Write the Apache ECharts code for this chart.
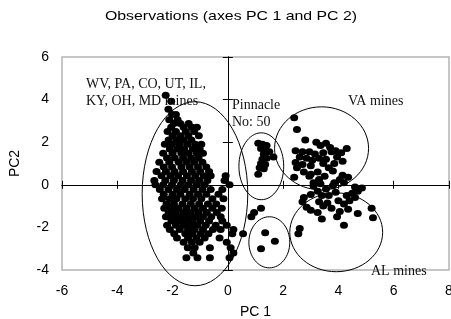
<!DOCTYPE html>
<html>
<head>
<meta charset="utf-8">
<script src="https://cdn.jsdelivr.net/npm/echarts@6/dist/echarts.min.js"></script>
<style>
    html, body {margin: 0; padding: 0; background: #fff;}
    #main {width: 451px; height: 319px;}
</style>
</head>
<body>
<div id="main"></div>
<script>
//图表容器
let chart = echarts.init(document.getElementById('main'));

//坐标轴刻度
let xMin = -6, xMax = 8, xStep = 2;
let yMin = -4, yMax = 6, yStep = 2;

//WV, PA, CO, UT, IL, KY, OH, MD 矿 - 按行 [Y, X...]
let wvRows = [
    [4.2, -2.25],
    [3.92, -2.05],
    [3.55, -2.15],
    [3.3, -2.02, -1.88],
    [3.05, -2.12, -1.82],
    [2.88, -1.95, -1.72, -1.42],
    [2.7, -2.05, -1.6, -1.3, -1.12],
    [2.5, -2.18, -1.88, -1.52, -1.22],
    [2.3, -2.0, -1.72, -1.43, -1.05],
    [2.1, -2.14, -1.86, -1.6, -1.32],
    [1.9, -2.28, -2.02, -1.74, -1.46, -1.18, -0.96],
    [1.68, -2.1, -1.83, -1.58, -1.27, -1.02],
    [1.48, -2.34, -2.0, -1.68, -1.42, -1.12, -0.9],
    [1.26, -2.2, -1.92, -1.62, -1.33, -1.06],
    [1.06, -2.48, -2.12, -1.78, -1.5, -1.22, -0.92],
    [0.84, -2.32, -2.02, -1.68, -1.38, -1.08, -0.78],
    [0.62, -2.58, -2.24, -1.93, -1.62, -1.3, -1.0, -0.68],
    [0.42, -2.4, -2.08, -1.8, -1.48, -1.18, -0.88, -0.62, -0.08],
    [0.2, -2.66, -2.26, -1.95, -1.64, -1.33, -1.04, -0.74, -0.12],
    [0.0, -2.62, -2.34, -2.02, -1.7, -1.42, -1.12, -0.84, 0.06],
    [-0.22, -2.46, -2.15, -1.84, -1.56, -1.24, -0.92, -0.62, -0.2],
    [-0.44, -2.32, -2.0, -1.72, -1.38, -1.08, -0.78, -0.34],
    [-0.66, -2.38, -2.1, -1.86, -1.54, -1.26, -0.96, -0.56, -0.16],
    [-0.9, -2.22, -1.95, -1.64, -1.34, -1.04, -0.72, -0.42],
    [-1.1, -2.3, -2.06, -1.8, -1.5, -1.2, -0.9, -0.56, -0.22],
    [-1.3, -2.14, -1.88, -1.6, -1.34, -1.06, -0.76, -0.4],
    [-1.5, -2.24, -1.98, -1.7, -1.44, -1.18, -0.9, -0.6, -0.26],
    [-1.7, -2.04, -1.78, -1.54, -1.28, -1.0, -0.68, -0.2],
    [-1.9, -2.2, -1.88, -1.6, -1.34, -1.1, -0.8, -0.44, -0.04],
    [-2.1, -2.1, -1.74, -1.44, -1.2, -0.9, -0.54, -0.26, 0.2],
    [-2.3, -1.94, -1.54, -1.28, -0.98, -0.7, 0.16, 0.55],
    [-2.5, -1.84, -1.44, -1.14, -0.84, -0.3],
    [-2.7, -1.6, -1.3, -1.02, -0.04],
    [-2.95, -1.45, -1.2, -0.65, 0.1],
    [-3.2, -1.25, 0.2],
    [-3.42, -1.5, -1.1, -0.65, 0.06]
];

//Pinnacle 矿 No: 50
let pinnaclePoints = [
    [1.1, 1.95], [1.25, 1.9], [1.4, 1.85], [1.2, 1.7], [1.35, 1.65], [1.5, 1.55],
    [1.3, 1.45], [1.25, 1.2], [1.4, 1.25], [1.65, 1.3], [1.2, 1.0], [1.35, 0.95],
    [1.15, 0.8], [1.3, 0.75], [1.1, 0.5],
    [0.85, -1.5], [0.95, -1.3], [1.2, -1.1],
    [1.35, -2.25], [1.7, -2.65], [1.2, -3.0]
];

//VA 矿
let vaPoints = [
    [2.4, 3.15], [2.5, 2.6], [2.8, 2.1], [3.2, 2.0], [3.55, 1.95], [3.35, 1.85],
    [3.7, 1.75], [4.3, 1.7], [4.1, 1.5], [3.9, 1.6], [2.45, 1.6], [2.7, 1.55],
    [2.95, 1.55], [3.15, 1.45], [3.45, 1.5], [3.75, 1.55], [3.95, 1.3], [2.6, 1.3],
    [2.85, 1.25], [3.05, 1.15], [3.3, 1.25], [3.55, 1.2], [3.85, 1.0], [4.15, 1.1],
    [2.45, 1.05], [2.7, 0.95], [3.0, 0.9], [3.45, 1.0], [3.65, 0.8], [3.8, 0.65],
    [2.5, 0.8], [2.75, 0.6], [3.0, 0.5], [3.25, 0.6], [3.5, 0.4], [2.4, 0.35],
    [2.95, 0.4], [3.3, 0.25], [4.15, 0.45], [4.35, 0.35], [4.05, 0.25], [4.2, 0.1],
    [4.6, -0.1], [3.85, 0.1]
];

//AL 矿
let alPoints = [
    [3.1, 0.1], [3.35, 0.05], [3.55, -0.2], [3.25, -0.3], [3.0, -0.45], [2.75, -0.6],
    [3.4, -0.5], [3.65, -0.5], [3.9, -0.35], [4.3, -0.5], [4.5, -0.4], [4.7, -0.3],
    [4.85, -0.15], [4.6, -0.6], [4.4, -0.75], [4.2, -0.9], [4.0, -0.75], [3.6, -0.85],
    [3.3, -0.8], [2.7, -0.8], [3.0, -1.2], [2.85, -1.05], [3.25, -1.3], [3.4, -1.6],
    [3.95, -1.5], [4.05, -1.25], [4.7, -1.35], [5.2, -1.1], [5.25, -1.55], [4.2, -1.9],
    [2.6, -2.05], [2.55, -2.3], [3.75, -1.1], [4.35, -1.15], [3.1, -0.05], [3.8, -0.05],
    [3.45, -1.0]
];

//分组椭圆 [中心X, 中心Y, 半径X, 半径Y]
let groupEllipses = [
    [-1.19, -0.42, 1.91, 4.32],
    [1.21, 0.87, 0.81, 1.57],
    [1.50, -2.70, 0.74, 1.20],
    [3.39, 1.71, 1.70, 1.95],
    [3.92, -2.23, 1.68, 1.85]
];

//行转点
let wvPoints = [];
for (let i = 0; i < wvRows.length; i++) {
    for (let j = 1; j < wvRows[i].length; j++) {
        wvPoints.push([wvRows[i][j], wvRows[i][0]]);
    }
}

let sans = 'Liberation Sans, Arial, sans-serif';
let serif = 'Liberation Serif, Times New Roman, serif';

//坐标轴 - 0 号带标签, 1/2 号过零线并画十字刻度
function makeX(i) {
    let a = {
        type: 'value', min: xMin, max: xMax, interval: xStep,
        position: 'bottom',
        splitLine: {show: false},
        axisLabel: {show: false},
        axisTick: {show: false},
        axisLine: {show: false, onZero: false}
    };
    if (i == 0) {
        a.axisLabel = {show: true, color: '#000', fontSize: 14, fontFamily: sans, margin: 14};
        a.name = 'PC 1';
        a.nameLocation = 'middle';
        a.nameGap = 35;
        a.nameTextStyle = {color: '#000', fontSize: 14, fontFamily: sans};
    } else {
        a.axisLine = {show: true, onZero: true, onZeroAxisIndex: 0, lineStyle: {color: '#000', width: 1}};
        a.axisTick = {show: true, inside: i == 1, length: 4, lineStyle: {color: '#000'}};
    }
    return a;
}
function makeY(i) {
    let a = {
        type: 'value', min: yMin, max: yMax, interval: yStep,
        position: 'left',
        splitLine: {show: false},
        axisLabel: {show: false},
        axisTick: {show: false},
        axisLine: {show: false, onZero: false}
    };
    if (i == 0) {
        a.axisLabel = {show: true, color: '#000', fontSize: 14, fontFamily: sans, margin: 13};
        a.name = 'PC2';
        a.nameLocation = 'middle';
        a.nameGap = 40;
        a.nameTextStyle = {color: '#000', fontSize: 14, fontFamily: sans};
    } else {
        a.axisLine = {show: true, onZero: true, onZeroAxisIndex: 0, lineStyle: {color: '#000', width: 1}};
        a.axisTick = {show: true, inside: i == 1, length: 5, lineStyle: {color: '#000'}};
    }
    return a;
}

function pointSeries(data) {
    return {
        type: 'scatter',
        data: data,
        symbol: 'circle',
        symbolSize: [8, 7],
        itemStyle: {color: '#000', opacity: 1},
        silent: true,
        z: 3
    };
}

let option = {
    backgroundColor: '#fff',
    animation: false,
    grid: {
        left: 62, top: 57, right: 2, bottom: 49,
        outerBoundsMode: 'none',
        containLabel: false,
        show: true,
        borderColor: '#b4b4b4',
        borderWidth: 1.5
    },
    xAxis: [makeX(0), makeX(1), makeX(2)],
    yAxis: [makeY(0), makeY(1), makeY(2)],
    series: [
        pointSeries(wvPoints),
        pointSeries(pinnaclePoints),
        pointSeries(vaPoints),
        pointSeries(alPoints),
        {
            //椭圆圈
            type: 'custom',
            data: groupEllipses,
            encode: {x: 0, y: 1},
            silent: true,
            z: 4,
            renderItem: function (params, api) {
                let c = api.coord([api.value(0), api.value(1)]);
                let s = api.size([api.value(2), api.value(3)]);
                return {
                    type: 'ellipse',
                    shape: {cx: c[0], cy: c[1], rx: s[0], ry: s[1]},
                    style: {fill: 'none', stroke: '#000', lineWidth: 1}
                };
            }
        }
    ],
    graphic: [
        {
            type: 'text', x: 231, y: 16, scaleX: 1.22,
            style: {text: 'Observations (axes PC 1 and PC 2)', font: '13px ' + sans, fill: '#000',
                textAlign: 'center', textVerticalAlign: 'middle'}
        },
        {
            type: 'text', x: 86, y: 76, z: 10,
            style: {text: 'WV, PA, CO, UT, IL,\nKY, OH, MD mines', font: '14px ' + serif, fill: '#111', lineHeight: 17}
        },
        {
            type: 'text', x: 232, y: 97, z: 10,
            style: {text: 'Pinnacle\nNo: 50', font: '14px ' + serif, fill: '#111', lineHeight: 17}
        },
        {
            type: 'text', x: 348, y: 94, z: 10,
            style: {text: 'VA mines', font: '14px ' + serif, fill: '#111'}
        },
        {
            type: 'text', x: 371, y: 264, z: 10,
            style: {text: 'AL mines', font: '14px ' + serif, fill: '#111'}
        }
    ]
};

chart.setOption(option);
</script>
</body>
</html>
